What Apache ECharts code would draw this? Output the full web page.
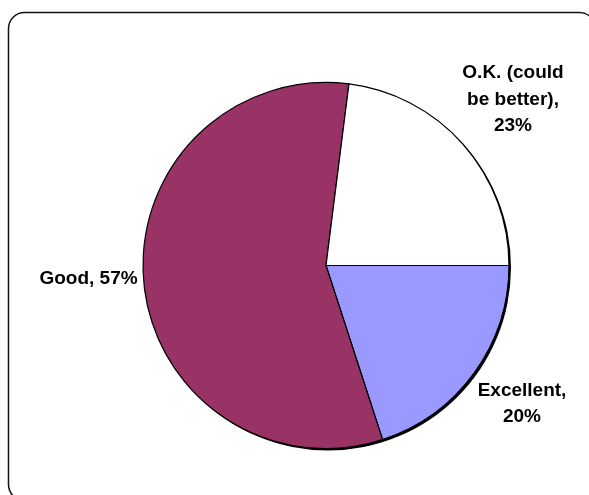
<!DOCTYPE html>
<html>
<head>
<meta charset="utf-8">
<script src="https://cdn.jsdelivr.net/npm/echarts@6/dist/echarts.min.js"></script>
<style>
  html, body { margin: 0; padding: 0; background: #fff; }
  #chart { width: 589px; height: 495px; }
</style>
</head>
<body>
<div id="chart"></div>
<script>
// Survey answers, drawn clockwise from 3 o'clock
const categories = ['Excellent', 'Good', 'O.K. (could\nbe better)'];
const values = [20, 57, 23];
const sliceColors = ['#9999FF', '#993366', '#FFFFFF'];
const labelFormats = ['{b},\n{d}%', '{b}, {d}%', '{b},\n{d}%'];
// label anchor points (centre of each label block)
const labelSpots = [[522, 404], [88.5, 279], [513, 99.5]];

const center = [326, 265.5];
const radius = 183;

const chart = echarts.init(document.getElementById('chart'), null, { renderer: 'canvas' });

chart.setOption({
  backgroundColor: '#fff',
  animation: false,
  graphic: [{
    type: 'rect',
    shape: { x: 8.5, y: 12.5, width: 587, height: 488, r: 16 },
    style: { fill: 'none', stroke: '#111', lineWidth: 1.5 },
    z: 0
  }],
  series: [
    {
      // drop shadow behind the pie
      type: 'pie',
      silent: true,
      center: [center[0] + 2, center[1] + 2],
      radius: radius,
      data: [{ value: 1 }],
      itemStyle: { color: '#000' },
      label: { show: false },
      labelLine: { show: false },
      z: 1
    },
    {
      type: 'pie',
      center: center,
      radius: radius,
      startAngle: 0,
      clockwise: true,
      z: 2,
      avoidLabelOverlap: false,
      itemStyle: { borderColor: '#000', borderWidth: 1.2 },
      labelLine: { show: false },
      label: {
        show: true,
        position: 'outside',
        overflow: 'none',
        edgeDistance: 0,
        color: '#000',
        fontFamily: 'Liberation Sans, Arial, sans-serif',
        fontWeight: 'bold',
        fontSize: 19,
        lineHeight: 26.5,
        align: 'center'
      },
      labelLayout: function (params) {
        const p = labelSpots[params.dataIndex];
        return { x: p[0], y: p[1], align: 'center', verticalAlign: 'middle' };
      },
      emphasis: { disabled: true },
      data: categories.map((name, i) => ({
        name: name,
        value: values[i],
        itemStyle: { color: sliceColors[i] },
        label: { formatter: labelFormats[i] }
      }))
    }
  ]
});
</script>
</body>
</html>
